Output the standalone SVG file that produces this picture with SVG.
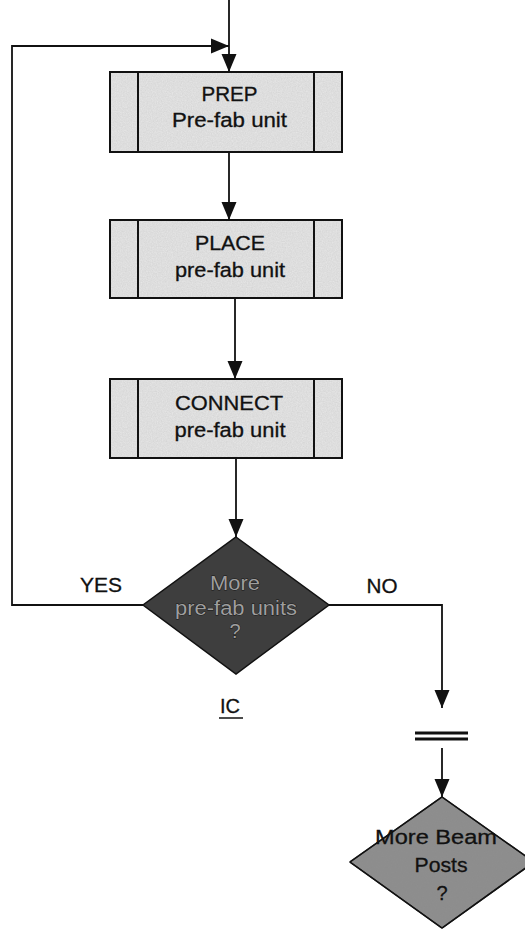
<svg xmlns="http://www.w3.org/2000/svg" width="525" height="930" viewBox="0 0 525 930">
<defs>
<marker id="arr" markerUnits="userSpaceOnUse" markerWidth="18" markerHeight="16" viewBox="0 0 18 15" refX="18" refY="7.5" orient="auto">
<path d="M0,0 L18,7.5 L0,15 Z" fill="#111"/>
</marker>
<filter id="grain" x="0" y="0" width="100%" height="100%">
<feTurbulence type="fractalNoise" baseFrequency="0.8" numOctaves="2" seed="3" result="n"/>
<feColorMatrix in="n" type="matrix" values="0 0 0 0 0.3  0 0 0 0 0.3  0 0 0 0 0.3  0 0 0 0.3 -0.02" result="g"/>
<feComposite in="g" in2="SourceGraphic" operator="atop"/>
</filter>
</defs>
<style>
.box{fill:#e6e6e6;stroke:#111;stroke-width:2}
.div{stroke:#111;stroke-width:2;fill:none}
.t{font-family:"Liberation Sans",Arial,sans-serif;font-size:20px;fill:#111;stroke:#111;stroke-width:0.3;text-anchor:middle}
.td{font-family:"Liberation Sans",Arial,sans-serif;font-size:20px;fill:#9e9e9e;stroke:#151515;stroke-width:0.8;paint-order:stroke;text-anchor:middle}
.con{stroke:#111;stroke-width:1.8;fill:none}
.dark{fill:#3e3e3e;stroke:#111;stroke-width:1.5}
.mid{fill:#8c8c8c;stroke:#111;stroke-width:1.5}
</style>

<g id="connectors">
<line class="con" x1="229" y1="0" x2="229" y2="72" marker-end="url(#arr)"/>
<polyline class="con" points="143,605 12,605 12,46 229,46" marker-end="url(#arr)"/>
<line class="con" x1="229" y1="152" x2="229" y2="220" marker-end="url(#arr)"/>
<line class="con" x1="235" y1="298" x2="235" y2="379" marker-end="url(#arr)"/>
<line class="con" x1="236" y1="458" x2="236" y2="537" marker-end="url(#arr)"/>
<polyline class="con" points="329,605 442,605 442,708" marker-end="url(#arr)"/>
<line class="con" x1="442" y1="748" x2="442" y2="797" marker-end="url(#arr)"/>
</g>

<g id="prep">
<rect class="box" x="110" y="72" width="232" height="80" filter="url(#grain)"/>
<rect x="110" y="72" width="232" height="80" fill="none" stroke="#111" stroke-width="2"/>
<line class="div" x1="138" y1="72" x2="138" y2="152"/>
<line class="div" x1="314" y1="72" x2="314" y2="152"/>
<text class="t" x="229.5" y="101" textLength="56" lengthAdjust="spacingAndGlyphs">PREP</text>
<text class="t" x="229.5" y="127" textLength="115" lengthAdjust="spacingAndGlyphs">Pre-fab unit</text>
</g>

<g id="place">
<rect class="box" x="110" y="220" width="232" height="78" filter="url(#grain)"/>
<rect x="110" y="220" width="232" height="78" fill="none" stroke="#111" stroke-width="2"/>
<line class="div" x1="138" y1="220" x2="138" y2="298"/>
<line class="div" x1="314" y1="220" x2="314" y2="298"/>
<text class="t" x="230" y="250" textLength="70" lengthAdjust="spacingAndGlyphs">PLACE</text>
<text class="t" x="230" y="277" textLength="110" lengthAdjust="spacingAndGlyphs">pre-fab unit</text>
</g>

<g id="connect">
<rect class="box" x="110" y="379" width="232" height="79" filter="url(#grain)"/>
<rect x="110" y="379" width="232" height="79" fill="none" stroke="#111" stroke-width="2"/>
<line class="div" x1="138" y1="379" x2="138" y2="458"/>
<line class="div" x1="314" y1="379" x2="314" y2="458"/>
<text class="t" x="229" y="410" textLength="108" lengthAdjust="spacingAndGlyphs">CONNECT</text>
<text class="t" x="230" y="437" textLength="111" lengthAdjust="spacingAndGlyphs">pre-fab unit</text>
</g>

<g id="more-units">
<polygon class="dark" points="236,537 329,605 236,674 143,605"/>
<text class="td" x="235" y="590" textLength="50" lengthAdjust="spacingAndGlyphs">More</text>
<text class="td" x="236" y="615" textLength="122" lengthAdjust="spacingAndGlyphs">pre-fab units</text>
<text class="td" x="235" y="638">?</text>
</g>

<g id="labels">
<text class="t" x="101" y="592" textLength="42" lengthAdjust="spacingAndGlyphs">YES</text>
<text class="t" x="382" y="593" textLength="31" lengthAdjust="spacingAndGlyphs">NO</text>
<text class="t" x="230" y="713">IC</text>
<line x1="219" y1="718" x2="243" y2="718" stroke="#111" stroke-width="1.5"/>
</g>

<g id="break">
<line x1="415" y1="733" x2="468" y2="733" stroke="#111" stroke-width="3"/>
<line x1="415" y1="739" x2="468" y2="739" stroke="#111" stroke-width="3"/>
</g>

<g id="more-posts">
<polygon class="mid" points="442,797 534,862 442,928 350,862" filter="url(#grain)"/>
<polygon points="442,797 534,862 442,928 350,862" fill="none" stroke="#111" stroke-width="1.5"/>
<text class="t" x="436" y="844" textLength="122" lengthAdjust="spacingAndGlyphs">More Beam</text>
<text class="t" x="441" y="872" textLength="53" lengthAdjust="spacingAndGlyphs">Posts</text>
<text class="t" x="442" y="900">?</text>
</g>
</svg>
